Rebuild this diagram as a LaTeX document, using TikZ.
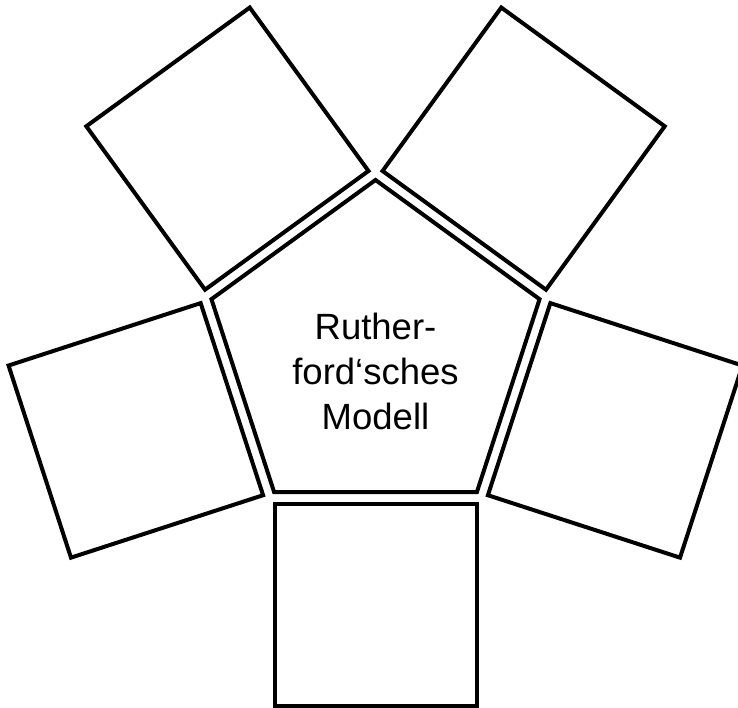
\documentclass[tikz,border=0pt]{standalone}
\usepackage{fontspec}
\setmainfont{Liberation Sans}
\begin{document}
\begin{tikzpicture}[x=1pt,y=1pt,
  shapeline/.style={draw=black, line width=4pt, line join=miter},
  labeltext/.style={align=center, font=\fontsize{36.5}{45}\selectfont, text=black}]
\useasboundingbox (0,0) rectangle (738,-708);
\coordinate (C) at (375.5,-352.5);
\begin{scope}[shift={(C)}]
  % pentagon
  \coordinate (P1) at (90:172.5);
  \coordinate (P2) at (162:172.5);
  \coordinate (P3) at (234:172.5);
  \coordinate (P4) at (306:172.5);
  \coordinate (P5) at (18:172.5);
  \draw[shapeline] (P1) -- (P2) -- (P3) -- (P4) -- (P5) -- cycle;
  % squares
  \foreach \k in {0,...,4}{
    \begin{scope}[rotate=72*\k]
      \coordinate (A\k) at (-101,-151);
      \coordinate (B\k) at (101,-151);
      \coordinate (D\k) at (101,-353);
      \coordinate (E\k) at (-101,-353);
      \draw[shapeline] (A\k) -- (B\k) -- (D\k) -- (E\k) -- cycle;
    \end{scope}
  }
\end{scope}
\node[labeltext] (T) at (375.5,-371) {Ruther-\\ford‘sches\\Modell};
\end{tikzpicture}
\end{document}
